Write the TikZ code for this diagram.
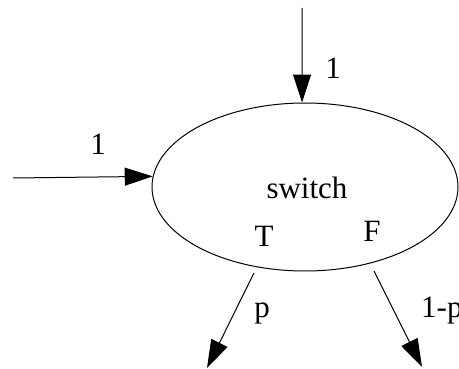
\documentclass[tikz,border=0pt]{standalone}
\usepackage{fontspec}
\setmainfont{Liberation Serif}
\usetikzlibrary{arrows.meta,shapes.geometric}
\begin{document}
\begin{tikzpicture}[x=1pt,y=-1pt,
  edge/.style={line width=1pt,-{Triangle[length=28pt,width=18pt]}},
  lbl/.style={font=\fontsize{31}{31}\selectfont,inner sep=0pt,anchor=base},
  state/.style={draw,line width=1pt,ellipse,minimum width=306pt,minimum height=168pt,inner sep=0pt}]
\useasboundingbox (0,0) rectangle (459,369);
\node[state] (sw) at (305,187) {};
\node[lbl] (name) at (307,199) {switch};
\node[lbl] (t) at (264,247) {T};
\node[lbl] (f) at (372,242) {F};
\coordinate (topin) at (302,8);
\coordinate (leftin) at (13,178);
\coordinate (tout) at (254,273);
\coordinate (fout) at (374,271);
\coordinate (tend) at (207,368);
\coordinate (fend) at (422,367);
\draw[edge] (topin) -- (sw.92);
\draw[edge] (leftin) -- (sw.176.6);
\draw[edge] (tout) -- (tend);
\draw[edge] (fout) -- (fend);
\node[lbl] (l1) at (333,79) {1};
\node[lbl] (l2) at (98,155) {1};
\node[lbl] (lp) at (262,318) {p};
\node[lbl,anchor=base west] (lq) at (421,318) {1-p};
\end{tikzpicture}
\end{document}
